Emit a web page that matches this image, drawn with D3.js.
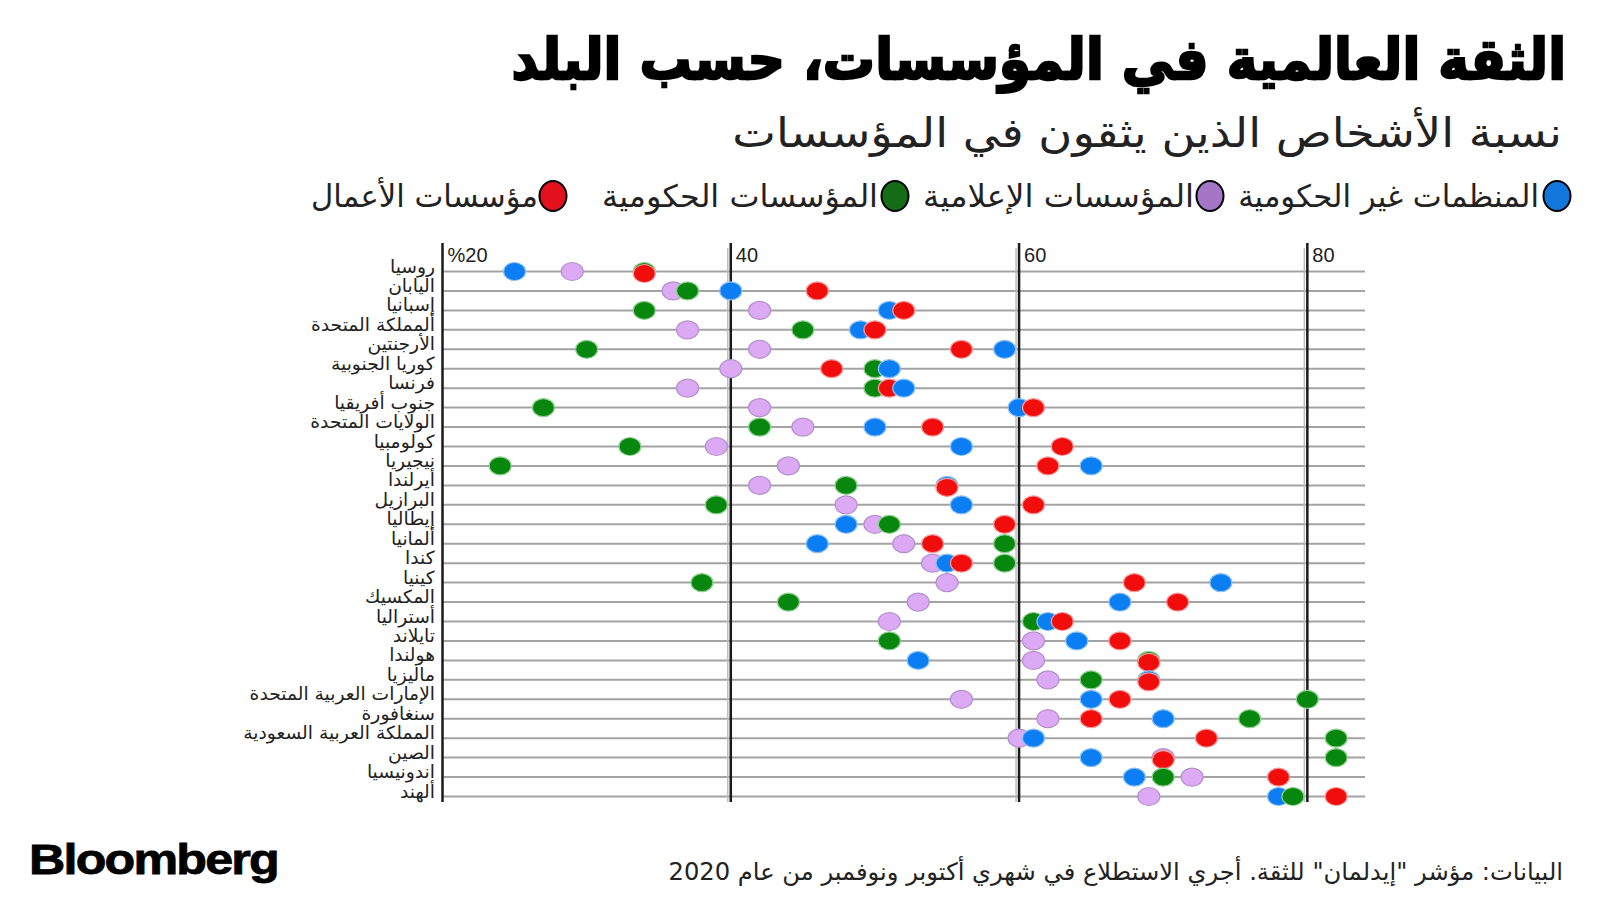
<!DOCTYPE html>
<html>
<head>
<meta charset="utf-8">
<script src="https://cdn.jsdelivr.net/npm/d3@7"></script>
<style>
  html, body { margin: 0; padding: 0; background: #fff; }
  svg { display: block; }
</style>
</head>
<body>
<div id="chart"></div>
<script>
// trust values per country (percent)
var countries = ["روسيا", "اليابان", "إسبانيا", "ألمملكة المتحدة", "الأرجنتين", "كوريا الجنوبية",
    "فرنسا", "جنوب أفريقيا", "الولايات المتحدة", "كولومبيا", "نيجيريا", "أيرلندا", "البرازيل",
    "إيطاليا", "ألمانيا", "كندا", "كينيا", "المكسيك", "أستراليا", "تايلاند", "هولندا", "ماليزيا",
    "الإمارات العربية المتحدة", "سنغافورة", "المملكة العربية السعودية", "الصين", "اندونيسيا", "ألهند"];
var ngo        = [25, 40, 51, 49, 59, 51, 52, 60, 50, 56, 65, 55, 56, 48, 46, 55, 74, 67, 62, 64, 53, 69, 65, 70, 61, 65, 68, 78];
var media      = [29, 36, 42, 37, 42, 40, 37, 42, 45, 39, 44, 42, 48, 50, 52, 54, 55, 53, 51, 61, 61, 62, 56, 62, 60, 70, 72, 69];
var government = [34, 37, 34, 45, 30, 50, 50, 27, 42, 33, 24, 48, 39, 51, 59, 59, 38, 44, 61, 51, 69, 65, 80, 76, 82, 82, 70, 79];
var business   = [34, 46, 52, 50, 56, 47, 51, 61, 54, 63, 62, 55, 61, 59, 54, 56, 68, 71, 63, 67, 69, 69, 67, 65, 73, 70, 78, 82];
var seriesNames = ["المنظمات غير الحكومية", "المؤسسات الإعلامية", "المؤسسات الحكومية", "مؤسسات الأعمال"];
var tickValues = [20, 40, 60, 80];

(function() {

    var width = 1600, height = 900;
    var arabic = "'DejaVu Sans', sans-serif";
    var series = [ngo, media, government, business];
    var dotFill = ["#0a7ef2", "#dcaaf4", "#08870f", "#f20d0d"];
    var dotStroke = ["#8cc0f5", "#b490cc", "#8fcf8f", "#f59a9a"];
    var legendFill = ["#1276dd", "#a676c6", "#146c14", "#e3101e"];

    var svg = d3.select("#chart")
        .append("svg")
        .attr("width", width)
        .attr("height", height);

    var x = d3.scaleLinear().domain([20, 84]).range([442.5, 1365]);
    var y = d3.scalePoint().domain(countries).range([271.5, 796.5]);

    // squeeze a text horizontally so it spans left..right, right edge at "right"
    function fit(text, left, right, baseline, sx) {
        var b = text.node().getBBox();
        if (sx == null) sx = (right - left) / b.width;
        text.attr("transform", "translate(" + (right - sx * (b.x + b.width)) + "," + baseline + ") scale(" + sx + ",1)");
        return sx;
    }

    function arText(size, str) {
        return svg.append("text")
            .attr("x", 0)
            .attr("y", 0)
            .attr("direction", "rtl")
            .attr("font-family", arabic)
            .attr("font-size", size)
            .attr("fill", "#222")
            .text(str);
    }

    // titles
    var title = arText(56, "الثقة العالمية في المؤسسات، حسب البلد")
        .attr("font-weight", "bold")
        .attr("fill", "#000")
        .attr("stroke", "#000")
        .attr("stroke-width", 2.4);
    fit(title, 511, 1566, 79);

    var subtitle = arText(41, "نسبة الأشخاص الذين يثقون في المؤسسات");
    fit(subtitle, 732, 1562, 147);

    // legend
    var legendPos = [
        {cx: 1557, left: 1238, right: 1539},
        {cx: 1210, left: 923, right: 1194},
        {cx: 895, left: 602, right: 878},
        {cx: 553, left: 311, right: 538}
    ];
    legendPos.forEach(function(p, i) {
        svg.append("ellipse")
            .attr("cx", p.cx)
            .attr("cy", 196)
            .attr("rx", 13.5)
            .attr("ry", 15)
            .attr("fill", legendFill[i])
            .attr("stroke", "#000")
            .attr("stroke-width", 2);
        var t = arText(31, seriesNames[i]);
        fit(t, p.left, p.right, 207);
    });

    // row lines
    svg.append("g")
        .selectAll("line")
        .data(countries)
        .enter()
        .append("line")
        .attr("x1", x(20))
        .attr("x2", x(84))
        .attr("y1", function(d) { return y(d); })
        .attr("y2", function(d) { return y(d); })
        .attr("stroke", "#a3a3a3")
        .attr("stroke-width", 2);

    // vertical grid / axis lines
    var grid = svg.append("g");
    grid.selectAll(".shadow")
        .data(tickValues.slice(1))
        .enter()
        .append("line")
        .attr("class", "shadow")
        .attr("x1", function(d) { return x(d) - 3; })
        .attr("x2", function(d) { return x(d) - 3; })
        .attr("y1", 248)
        .attr("y2", 802)
        .attr("stroke", "#bdbdbd")
        .attr("stroke-width", 1.5);
    grid.selectAll(".tick")
        .data(tickValues)
        .enter()
        .append("line")
        .attr("class", "tick")
        .attr("x1", function(d) { return x(d); })
        .attr("x2", function(d) { return x(d); })
        .attr("y1", 243)
        .attr("y2", 802)
        .attr("stroke", "#1a1a1a")
        .attr("stroke-width", 2.5);
    grid.selectAll(".label")
        .data(tickValues)
        .enter()
        .append("text")
        .attr("class", "label")
        .attr("x", function(d) { return x(d) + 5; })
        .attr("y", 262)
        .attr("font-family", "'Liberation Sans', Arial, sans-serif")
        .attr("font-size", 20)
        .attr("fill", "#222")
        .text(function(d, i) { return i === 0 ? "%" + d : d; });

    // country labels
    var labels = svg.append("g")
        .selectAll("text")
        .data(countries)
        .enter()
        .append("text")
        .attr("x", 0)
        .attr("y", 0)
        .attr("direction", "rtl")
        .attr("font-family", arabic)
        .attr("font-size", 18)
        .attr("fill", "#222")
        .text(function(d) { return d; });
    var longest = labels.filter(function(d) { return d === "المملكة العربية السعودية"; });
    var sx = fit(longest, 243, 435, 0);
    labels.each(function(d) { fit(d3.select(this), null, 435, y(d) + 1, sx); });

    // dots, sorted so the higher value sits on top
    var dots = [];
    countries.forEach(function(c, r) {
        var row = series.map(function(s, k) { return {country: c, value: s[r], k: k}; });
        row.sort(function(a, b) { return a.value - b.value || a.k - b.k; });
        row.forEach(function(d, j) {
            d.dy = (j > 0 && row[j - 1].value === d.value) ? 2 : 0;
            dots.push(d);
        });
    });
    svg.append("g")
        .selectAll("ellipse")
        .data(dots)
        .enter()
        .append("ellipse")
        .attr("cx", function(d) { return x(d.value); })
        .attr("cy", function(d) { return y(d.country) + d.dy; })
        .attr("rx", 11)
        .attr("ry", 9)
        .attr("fill", function(d) { return dotFill[d.k]; })
        .attr("stroke", function(d) { return dotStroke[d.k]; })
        .attr("stroke-width", 1.2);

    // footer
    var logo = svg.append("text")
        .attr("x", 0)
        .attr("y", 0)
        .attr("font-family", "'Liberation Sans', Arial, sans-serif")
        .attr("font-weight", "bold")
        .attr("font-size", 42)
        .attr("letter-spacing", -1.5)
        .attr("fill", "#000")
        .attr("stroke", "#000")
        .attr("stroke-width", 0.8)
        .text("Bloomberg");
    fit(logo, 29, 278, 874);

    var source = arText(24, "البيانات: مؤشر \"إيدلمان\" للثقة. أجري الاستطلاع في شهري أكتوبر ونوفمبر من عام 2020");
    fit(source, 668, 1563, 880);

})();
</script>
</body>
</html>
